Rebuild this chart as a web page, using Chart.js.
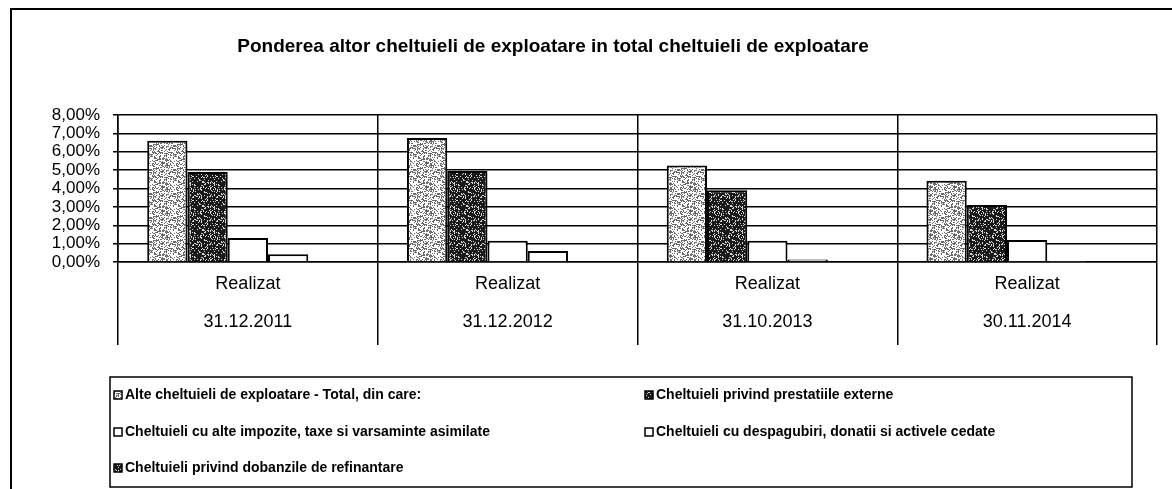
<!DOCTYPE html>
<html>
<head>
<meta charset="utf-8">
<script src="https://cdn.jsdelivr.net/npm/chart.js@4.4.1/dist/chart.umd.min.js"></script>
<style>
    html, body { margin: 0; padding: 0; background: #fff; }
</style>
</head>
<body>
<canvas id="ponderiChart" width="1172" height="489"></canvas>
<script>
const titlu = 'Ponderea altor cheltuieli de exploatare in total cheltuieli de exploatare';

const perioade = [
    ['Realizat', '31.12.2011'],
    ['Realizat', '31.12.2012'],
    ['Realizat', '31.10.2013'],
    ['Realizat', '30.11.2014']
];

const serii = [
    'Alte cheltuieli de exploatare - Total, din care:',
    'Cheltuieli privind prestatiile externe',
    'Cheltuieli cu alte impozite, taxe si varsaminte asimilate',
    'Cheltuieli cu despagubiri, donatii si activele cedate',
    'Cheltuieli privind dobanzile de refinantare'
];

// valori in procente (%)
const alteTotal   = [6.60, 6.75, 5.25, 4.42];
const prestatii   = [4.90, 4.95, 3.90, 3.10];
const impozite    = [1.30, 1.15, 1.15, 1.20];
const despagubiri = [0.42, 0.60, 0.13, 0.02];
const dobanzi     = [0, 0, 0, 0];

const yTicks = [0, 1, 2, 3, 4, 5, 6, 7, 8];

const FONT = "'Liberation Sans', Arial, sans-serif";

// textura "punctata" ca in scanare (hash determinist, nu date)
function makeStipple(base, ink, prag) {
    const c = document.createElement('canvas');
    c.width = 24; c.height = 24;
    const cx = c.getContext('2d');
    cx.fillStyle = base;
    cx.fillRect(0, 0, 24, 24);
    cx.fillStyle = ink;
    for (let x = 0; x < 24; x++) {
        for (let y = 0; y < 24; y++) {
            const h = ((x * 73856093) ^ (y * 19349663) ^ (x * y * 83492791)) >>> 0;
            if (h % 100 < prag) cx.fillRect(x, y, 1, 1);
        }
    }
    return cx.createPattern(c, 'repeat');
}

const texturaDeschisa = makeStipple('#ffffff', '#6a6a6a', 38);
const texturaInchisa = makeStipple('#1a1a1a', '#d8d8d8', 22);

const culori = [texturaDeschisa, texturaInchisa, '#ffffff', '#ffffff', texturaInchisa];
const valori = [alteTotal, prestatii, impozite, despagubiri, dobanzi];

const chenarSiLegenda = {
    id: 'chenarSiLegenda',
    beforeDraw(chart) {
        const ctx = chart.ctx;
        ctx.save();
        ctx.fillStyle = '#fff';
        ctx.fillRect(0, 0, chart.width, chart.height);
        ctx.strokeStyle = '#000';
        ctx.lineWidth = 2;
        ctx.beginPath();
        ctx.moveTo(11, chart.height);
        ctx.lineTo(11, 9);
        ctx.lineTo(chart.width, 9);
        ctx.stroke();
        ctx.restore();
    },
    afterDraw(chart) {
        const ctx = chart.ctx;
        ctx.save();
        // titlu
        ctx.fillStyle = '#000';
        ctx.font = 'bold 19px ' + FONT;
        ctx.textAlign = 'center';
        ctx.textBaseline = 'middle';
        ctx.fillText(titlu, 553, 47);

        // legenda
        const box = { x: 110, y: 377, w: 1022, h: 110 };
        ctx.lineWidth = 1.5;
        ctx.strokeStyle = '#000';
        ctx.strokeRect(box.x, box.y, box.w, box.h);
        const colX = [114, 645];
        const rowY = [395, 432, 468];
        ctx.font = 'bold 14px ' + FONT;
        ctx.textAlign = 'left';
        chart.data.datasets.forEach((ds, i) => {
            const x = colX[i % 2];
            const y = rowY[Math.floor(i / 2)];
            ctx.fillStyle = ds.backgroundColor;
            ctx.fillRect(x, y - 4, 8, 8);
            ctx.strokeRect(x, y - 4, 8, 8);
            ctx.fillStyle = '#000';
            ctx.fillText(ds.label, x + 11, y);
        });
        ctx.restore();
    }
};

const ctx = document.getElementById('ponderiChart').getContext('2d');

new Chart(ctx, {
    type: 'bar',
    data: {
        labels: perioade,
        datasets: serii.map((nume, i) => ({
            label: nume,
            data: valori[i],
            backgroundColor: culori[i],
            borderColor: '#000',
            borderWidth: 2,
            categoryPercentage: 0.775,
            barPercentage: 1
        }))
    },
    options: {
        responsive: false,
        animation: false,
        layout: { padding: { top: 115, left: 10, right: 15, bottom: 144 } },
        plugins: {
            legend: { display: false },
            title: { display: false },
            tooltip: { enabled: false }
        },
        scales: {
            x: {
                grid: {
                    color: '#000',
                    lineWidth: 1.5,
                    offset: true,
                    drawTicks: true,
                    tickLength: 83
                },
                border: { color: '#000', width: 1.5 },
                ticks: {
                    color: '#000',
                    padding: -80,
                    maxRotation: 0,
                    font: { family: FONT, size: 18, lineHeight: 2.1 }
                },
                afterFit(scale) { scale.height = 83; }
            },
            y: {
                min: 0,
                max: 8,
                afterBuildTicks(scale) {
                    scale.ticks = yTicks.map(v => ({ value: v }));
                },
                grid: {
                    color: '#000',
                    lineWidth: 1.5,
                    drawTicks: true,
                    tickLength: 5
                },
                border: { color: '#000', width: 1.5 },
                ticks: {
                    color: '#000',
                    padding: 13,
                    autoSkip: false,
                    font: { family: FONT, size: 17, lineHeight: 1 },
                    callback: v => v.toFixed(2).replace('.', ',') + '%'
                },
                afterFit(scale) { scale.width = 108; }
            }
        }
    },
    plugins: [chenarSiLegenda]
});
</script>
</body>
</html>
